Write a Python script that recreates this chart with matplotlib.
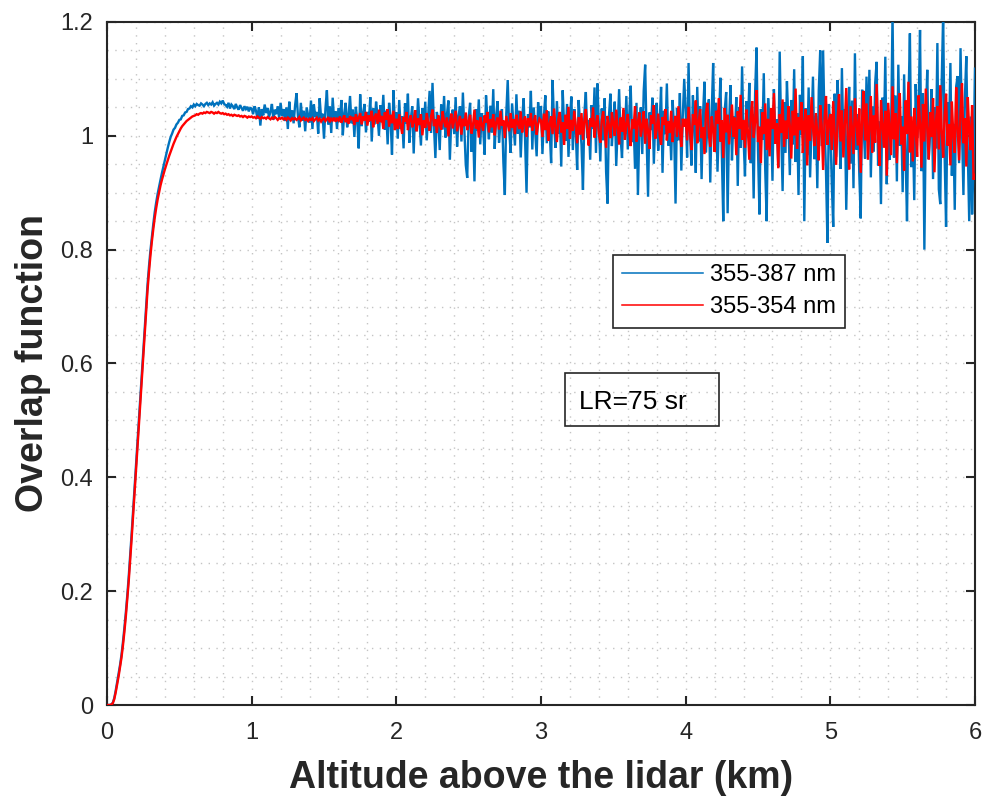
import numpy as np
import matplotlib
matplotlib.use("Agg")
import matplotlib.pyplot as plt
from matplotlib.ticker import MultipleLocator, FuncFormatter
from matplotlib.patches import Rectangle

plt.rcParams['font.family'] = ['Liberation Sans', 'DejaVu Sans']

# ---------------- data ----------------
alt_step_km = 0.01  # sampling step of the altitude grid

# 355-387 nm overlap, per 1-km segment (0.00 .. 6.00 km)
blue_0_1 = [0.000, 0.000, 0.000, 0.001, 0.004, 0.012, 0.025, 0.040, 0.055, 0.070,
            0.088, 0.110, 0.135, 0.162, 0.192, 0.225, 0.262, 0.300, 0.340, 0.380,
            0.420, 0.460, 0.500, 0.540, 0.580, 0.620, 0.660, 0.700, 0.738, 0.770,
            0.798, 0.822, 0.845, 0.866, 0.883, 0.898, 0.911, 0.923, 0.935, 0.946,
            0.957, 0.968, 0.979, 0.989, 0.998, 1.004, 1.011, 1.014, 1.020, 1.023,
            1.028, 1.029, 1.035, 1.036, 1.041, 1.042, 1.047, 1.048, 1.052, 1.050,
            1.055, 1.052, 1.056, 1.054, 1.053, 1.057, 1.055, 1.052, 1.056, 1.058,
            1.054, 1.057, 1.055, 1.059, 1.053, 1.056, 1.058, 1.055, 1.060, 1.057,
            1.062, 1.056, 1.054, 1.051, 1.058, 1.048, 1.055, 1.052, 1.047, 1.056,
            1.050, 1.046, 1.054, 1.049, 1.044, 1.052, 1.047, 1.051, 1.043, 1.049]
blue_1_2 = [1.048, 1.038, 1.052, 1.044, 1.030, 1.050, 1.018, 1.047, 1.036, 1.055,
            1.040, 1.049, 1.033, 1.043, 1.056, 1.028, 1.046, 1.038, 1.052, 1.031,
            1.058, 1.035, 1.047, 1.026, 1.050, 1.012, 1.060, 1.030, 1.045, 1.022,
            1.053, 1.075, 1.034, 1.015, 1.058, 1.027, 1.044, 1.008, 1.050, 1.037,
            1.023, 1.062, 1.012, 1.055, 1.033, 1.042, 1.004, 1.066, 1.031, 1.039,
            0.995, 1.048, 1.080, 1.020, 1.052, 1.005, 1.067, 1.027, 1.043, 1.012,
            1.049, 1.024, 1.063, 1.001, 1.040, 1.058, 1.015, 1.036, 1.070, 1.022,
            1.046, 0.998, 1.051, 1.028, 0.978, 1.073, 1.017, 1.039, 1.056, 1.006,
            1.042, 1.025, 1.068, 0.990, 1.048, 1.020, 1.060, 1.035, 1.000, 1.054,
            1.026, 1.072, 1.011, 1.044, 0.985, 1.058, 1.030, 0.967, 1.080, 1.019]
blue_2_3 = [1.041, 0.995, 1.063, 1.012, 1.034, 0.978, 1.057, 1.021, 1.074, 0.988,
            1.030, 1.052, 0.969, 1.045, 1.008, 1.066, 1.024, 0.983, 1.049, 1.015,
            1.060, 0.992, 1.037, 1.079, 1.005, 1.093, 1.018, 0.961, 1.042, 1.027,
            0.975, 1.055, 1.011, 1.070, 0.997, 1.038, 1.062, 0.958, 1.029, 1.046,
            1.003, 1.068, 0.981, 1.035, 1.052, 0.990, 1.076, 1.014, 0.949, 0.926,
            1.033, 1.058, 0.972, 1.022, 0.920, 1.047, 1.009, 1.064, 0.985, 1.040,
            1.016, 0.967, 1.071, 1.028, 0.994, 1.053, 1.006, 1.082, 0.977, 1.036,
            1.061, 0.988, 1.024, 1.047, 0.953, 0.896, 1.039, 1.098, 1.012, 0.970,
            1.057, 1.020, 0.983, 1.073, 1.004, 1.044, 0.962, 1.031, 1.066, 0.993,
            0.900, 1.038, 1.015, 1.079, 0.976, 1.050, 1.008, 0.964, 1.059, 1.025]
blue_3_4 = [1.052, 0.968, 1.034, 1.071, 0.987, 1.043, 1.010, 0.952, 1.098, 1.025,
            0.979, 1.061, 1.004, 1.038, 0.946, 1.080, 1.017, 0.991, 1.056, 0.963,
            1.032, 1.069, 0.975, 1.047, 1.008, 0.940, 1.063, 1.021, 0.984, 0.905,
            1.041, 1.077, 0.996, 1.028, 0.958, 1.054, 1.012, 1.085, 0.970, 1.092,
            1.019, 0.955, 1.048, 0.992, 1.066, 0.937, 0.881, 1.036, 1.074, 0.982,
            1.029, 1.060, 0.947, 1.013, 1.082, 0.998, 0.961, 1.045, 1.003, 1.070,
            0.976, 1.037, 1.088, 0.989, 1.024, 0.942, 1.058, 0.896, 1.015, 1.050,
            0.968, 1.079, 1.125, 0.999, 0.893, 1.041, 1.010, 1.067, 0.951, 1.031,
            1.058, 0.974, 1.020, 1.086, 0.935, 1.044, 1.003, 1.092, 0.983, 1.026,
            0.957, 1.063, 1.011, 0.881, 1.049, 0.992, 1.075, 0.939, 1.034, 1.100]
blue_4_5 = [1.044, 0.962, 1.128, 1.003, 0.948, 1.071, 1.019, 0.935, 1.086, 0.990,
            1.052, 0.924, 1.037, 1.095, 0.971, 1.013, 1.064, 0.918, 1.041, 1.128,
            0.983, 1.058, 0.937, 1.026, 1.102, 0.968, 0.850, 1.045, 1.077, 0.864,
            1.020, 1.089, 0.957, 1.034, 0.995, 1.068, 0.912, 1.050, 0.979, 1.122,
            0.998, 0.929, 1.061, 1.015, 1.093, 0.952, 1.038, 0.890, 1.074, 1.155,
            0.976, 0.862, 1.047, 0.993, 1.110, 0.940, 0.850, 1.066, 1.008, 1.037,
            0.921, 1.082, 0.987, 1.029, 0.945, 1.148, 1.011, 0.903, 1.059, 0.970,
            1.096, 1.024, 0.931, 1.063, 0.985, 1.117, 0.954, 1.040, 0.896, 1.072,
            1.002, 1.140, 0.850, 1.048, 0.966, 1.085, 0.927, 1.013, 1.104, 0.959,
            1.035, 0.908, 1.079, 1.150, 0.982, 1.150, 1.021, 0.938, 0.812, 1.056]
blue_5_6 = [1.012, 0.918, 0.840, 1.074, 0.963, 1.098, 1.031, 0.942, 1.119, 0.985,
            1.047, 0.870, 1.003, 1.086, 0.951, 1.062, 0.908, 1.145, 0.976, 1.038,
            0.934, 0.855, 1.081, 1.015, 0.960, 1.104, 0.990, 1.116, 0.927, 1.052,
            0.972, 1.093, 1.130, 0.948, 1.025, 0.880, 1.067, 0.994, 1.139, 0.915,
            1.046, 0.958, 1.010, 1.215, 0.962, 1.071, 0.920, 1.125, 0.983, 1.034,
            0.901, 1.108, 0.969, 0.850, 1.058, 1.180, 0.945, 1.022, 0.887, 1.091,
            0.996, 1.043, 1.186, 0.938, 1.075, 0.800, 1.030, 1.116, 0.959, 1.004,
            1.082, 0.924, 1.050, 0.978, 1.163, 0.906, 0.880, 1.097, 1.215, 0.967,
            0.840, 1.059, 0.995, 1.128, 0.930, 1.021, 0.870, 1.087, 1.105, 0.952,
            1.154, 1.013, 0.896, 1.066, 1.140, 0.975, 0.850, 1.034, 0.862, 0.952,
            1.118]

# 355-354 nm overlap, per 1-km segment (0.00 .. 6.00 km)
red_0_1 = [0.000, 0.000, 0.000, 0.001, 0.003, 0.010, 0.022, 0.036, 0.050, 0.066,
           0.083, 0.104, 0.128, 0.155, 0.185, 0.217, 0.253, 0.291, 0.330, 0.370,
           0.410, 0.450, 0.490, 0.530, 0.570, 0.610, 0.650, 0.690, 0.728, 0.760,
           0.789, 0.814, 0.836, 0.856, 0.873, 0.888, 0.901, 0.913, 0.923, 0.932,
           0.941, 0.949, 0.957, 0.965, 0.972, 0.979, 0.986, 0.992, 0.998, 1.003,
           1.008, 1.013, 1.017, 1.020, 1.023, 1.026, 1.028, 1.030, 1.032, 1.034,
           1.035, 1.036, 1.038, 1.037, 1.039, 1.040, 1.039, 1.041, 1.040, 1.042,
           1.041, 1.040, 1.042, 1.041, 1.039, 1.041, 1.040, 1.042, 1.040, 1.039,
           1.040, 1.038, 1.039, 1.037, 1.038, 1.036, 1.037, 1.035, 1.037, 1.036,
           1.035, 1.036, 1.034, 1.035, 1.033, 1.035, 1.034, 1.032, 1.034, 1.033]
red_1_2 = [1.034, 1.032, 1.033, 1.031, 1.034, 1.032, 1.030, 1.033, 1.031, 1.032,
           1.030, 1.033, 1.031, 1.029, 1.032, 1.030, 1.033, 1.031, 1.028, 1.031,
           1.030, 1.032, 1.029, 1.031, 1.028, 1.032, 1.030, 1.027, 1.031, 1.029,
           1.031, 1.028, 1.030, 1.033, 1.027, 1.030, 1.032, 1.028, 1.030, 1.026,
           1.030, 1.028, 1.031, 1.026, 1.029, 1.032, 1.027, 1.030, 1.025, 1.029,
           1.031, 1.026, 1.029, 1.033, 1.024, 1.030, 1.027, 1.032, 1.025, 1.030,
           1.027, 1.034, 1.023, 1.030, 1.036, 1.024, 1.031, 1.021, 1.035, 1.028,
           1.033, 1.019, 1.038, 1.025, 1.031, 1.040, 1.020, 1.034, 1.027, 1.042,
           1.018, 1.036, 1.026, 1.044, 1.015, 1.033, 1.039, 1.021, 1.046, 1.024,
           1.035, 1.012, 1.041, 1.028, 1.047, 1.016, 1.037, 1.022, 1.044, 1.010]
red_2_3 = [1.030, 1.012, 1.038, 1.019, 1.004, 1.033, 1.025, 1.042, 1.010, 1.028,
           1.036, 1.015, 1.024, 1.045, 1.008, 1.031, 1.019, 1.038, 1.001, 1.027,
           1.014, 1.040, 1.022, 1.009, 1.034, 1.046, 1.017, 1.029, 1.005, 1.036,
           1.020, 1.011, 1.043, 1.026, 1.015, 1.032, 0.999, 1.024, 1.039, 1.013,
           1.028, 1.044, 1.008, 1.021, 1.035, 1.002, 1.030, 1.017, 1.041, 1.010,
           1.025, 1.037, 1.004, 1.019, 1.046, 1.013, 1.027, 0.997, 1.033, 1.020,
           1.009, 1.036, 1.023, 1.042, 1.006, 1.029, 1.015, 1.038, 1.001, 1.024,
           1.032, 1.011, 1.044, 1.018, 1.027, 0.996, 1.035, 1.021, 1.008, 1.040,
           1.014, 1.029, 1.003, 1.037, 1.022, 1.012, 1.043, 1.006, 1.026, 1.034,
           0.998, 1.031, 1.017, 1.040, 1.009, 1.025, 1.036, 1.002, 1.020, 1.030]
red_3_4 = [1.027, 0.998, 1.039, 1.010, 1.045, 0.991, 1.021, 1.034, 1.003, 1.048,
           1.015, 0.989, 1.030, 1.042, 1.006, 1.024, 0.984, 1.037, 1.012, 1.051,
           0.995, 1.028, 1.009, 1.044, 1.019, 0.987, 1.033, 1.002, 1.040, 0.993,
           1.025, 1.047, 1.008, 0.983, 1.031, 1.016, 1.050, 0.997, 1.022, 1.036,
           1.004, 0.988, 1.027, 1.043, 1.011, 0.979, 1.035, 1.018, 0.996, 1.041,
           1.023, 1.000, 1.046, 1.014, 0.985, 1.032, 1.007, 1.049, 0.993, 1.020,
           1.038, 1.006, 0.982, 1.029, 1.013, 1.052, 0.990, 1.024, 1.041, 0.999,
           1.017, 1.043, 0.986, 1.030, 1.008, 0.977, 1.036, 1.021, 1.054, 0.995,
           1.012, 1.039, 1.001, 0.984, 1.033, 1.019, 1.047, 0.992, 1.026, 1.005,
           1.044, 0.989, 1.021, 1.035, 0.998, 1.052, 1.010, 0.981, 1.030, 1.016]
red_4_5 = [1.030, 0.992, 1.051, 1.008, 0.975, 1.038, 1.019, 1.062, 0.987, 1.024,
           1.047, 0.996, 1.015, 0.968, 1.040, 1.058, 1.003, 0.981, 1.034, 1.011,
           0.972, 1.044, 1.021, 1.066, 0.990, 1.027, 0.961, 1.049, 1.006, 1.037,
           0.985, 1.020, 1.055, 0.998, 1.032, 0.966, 1.043, 1.012, 1.072, 0.993,
           1.028, 0.979, 1.046, 1.009, 0.958, 1.035, 1.061, 0.997, 1.024, 1.080,
           0.989, 1.016, 0.952, 1.041, 1.003, 1.057, 0.975, 1.030, 0.964, 1.049,
           1.012, 1.075, 0.986, 1.022, 0.943, 1.038, 1.005, 1.064, 0.981, 1.027,
           0.995, 1.052, 1.018, 0.960, 1.044, 1.001, 1.083, 0.977, 1.033, 1.010,
           1.059, 0.970, 1.025, 1.047, 0.948, 1.036, 0.991, 1.068, 1.014, 0.982,
           1.040, 1.003, 0.957, 1.054, 1.019, 0.940, 1.031, 1.070, 0.984, 1.026]
red_5_6 = [1.038, 0.975, 1.061, 1.004, 0.949, 1.027, 1.073, 0.990, 1.045, 0.962,
           1.019, 1.084, 0.997, 0.941, 1.052, 1.010, 0.968, 1.066, 1.025, 0.983,
           1.048, 0.935, 1.031, 1.079, 0.992, 1.057, 0.958, 1.014, 1.070, 0.970,
           1.036, 0.988, 1.091, 1.002, 0.947, 1.063, 1.021, 0.979, 1.044, 0.930,
           1.058, 1.011, 0.966, 1.087, 0.994, 1.040, 0.952, 1.029, 1.075, 0.985,
           1.016, 0.939, 1.062, 1.003, 1.095, 0.971, 1.034, 0.955, 1.049, 1.008,
           0.963, 1.071, 1.022, 0.944, 1.056, 0.990, 1.083, 1.012, 0.958, 1.041,
           0.998, 1.066, 0.936, 1.027, 1.052, 0.976, 1.089, 1.006, 0.962, 1.037,
           1.074, 0.983, 1.020, 0.948, 1.060, 1.001, 0.970, 1.085, 1.013, 0.957,
           1.043, 1.092, 0.987, 1.031, 0.946, 1.068, 1.009, 0.975, 1.054, 0.923,
           0.931]

series_labels = ["355-387 nm", "355-354 nm"]
x_ticks = [0, 1, 2, 3, 4, 5, 6]
y_ticks = [0, 0.2, 0.4, 0.6, 0.8, 1.0, 1.2]
annotation = "LR=75 sr"

blue = np.array(blue_0_1 + blue_1_2 + blue_2_3 + blue_3_4 + blue_4_5 + blue_5_6)
red = np.array(red_0_1 + red_1_2 + red_2_3 + red_3_4 + red_4_5 + red_5_6)
altitude = np.round(np.arange(len(blue)) * alt_step_km, 2)

# ---------------- figure ----------------
W, H = 987, 802
fig = plt.figure(figsize=(W / 100, H / 100), dpi=100)
L, R, T, B = 107, 975, 22, 705
ax = fig.add_axes([L / W, (H - B) / H, (R - L) / W, (B - T) / H])

dark = "#262626"
ax.plot(altitude, blue, color="#0072BD", lw=1.7, label=series_labels[0], zorder=3,
        solid_joinstyle="miter")
ax.plot(altitude, red, color="#FF0000", lw=1.7, label=series_labels[1], zorder=4,
        solid_joinstyle="miter")

ax.set_xlim(0, 6)
ax.set_ylim(0, 1.2)
ax.set_xticks(x_ticks)
ax.set_yticks(y_ticks)
ax.xaxis.set_minor_locator(MultipleLocator(0.2))
ax.yaxis.set_minor_locator(MultipleLocator(0.05))
ax.yaxis.set_major_formatter(FuncFormatter(lambda v, p: f"{v:g}"))
ax.xaxis.set_major_formatter(FuncFormatter(lambda v, p: f"{v:g}"))

ax.tick_params(which="major", direction="in", length=6.5, width=1.5, color=dark,
               top=True, right=True, labelsize=17, labelcolor=dark)
ax.tick_params(axis="x", which="major", pad=12)
ax.tick_params(axis="y", which="major", pad=10)
ax.tick_params(which="minor", length=0, top=True, right=True)
for s in ax.spines.values():
    s.set_linewidth(1.5)
    s.set_color(dark)

grid_kw = dict(color="#c4c4c4", linestyle=(0, (1, 4.6)), linewidth=1.0)
ax.grid(True, which="major", **grid_kw)
ax.grid(True, which="minor", **grid_kw)
ax.set_axisbelow(True)

ax.set_xlabel("Altitude above the lidar (km)", fontsize=27, fontweight="bold",
              color=dark, labelpad=12)
ax.set_ylabel("Overlap function", fontsize=27, fontweight="bold", color=dark,
              labelpad=7)

# legend
leg = ax.legend(loc="upper left",
                bbox_to_anchor=((613 - L) / (R - L), (B - 255) / (B - T)),
                fontsize=17, frameon=True, fancybox=False, handlelength=3.4,
                handletextpad=0.3, borderpad=0.4, labelspacing=0.42,
                borderaxespad=0)
leg.get_frame().set_edgecolor(dark)
leg.get_frame().set_linewidth(1.2)
leg.get_frame().set_alpha(1.0)
leg.set_zorder(10)
for h in leg.get_lines():
    h.set_linewidth(1.1)

# LR text box (transparent, outline only)
ax.add_patch(Rectangle(((565 - L) / (R - L), (B - 426) / (B - T)),
                       154 / (R - L), 53 / (B - T), transform=ax.transAxes,
                       fill=False, edgecolor=dark, linewidth=1.2, zorder=10))
ax.text((579 - L) / (R - L), (B - 409) / (B - T), annotation, transform=ax.transAxes,
        fontsize=19, color="black", ha="left", va="baseline", zorder=11)

fig.savefig("out.png", dpi=100)
